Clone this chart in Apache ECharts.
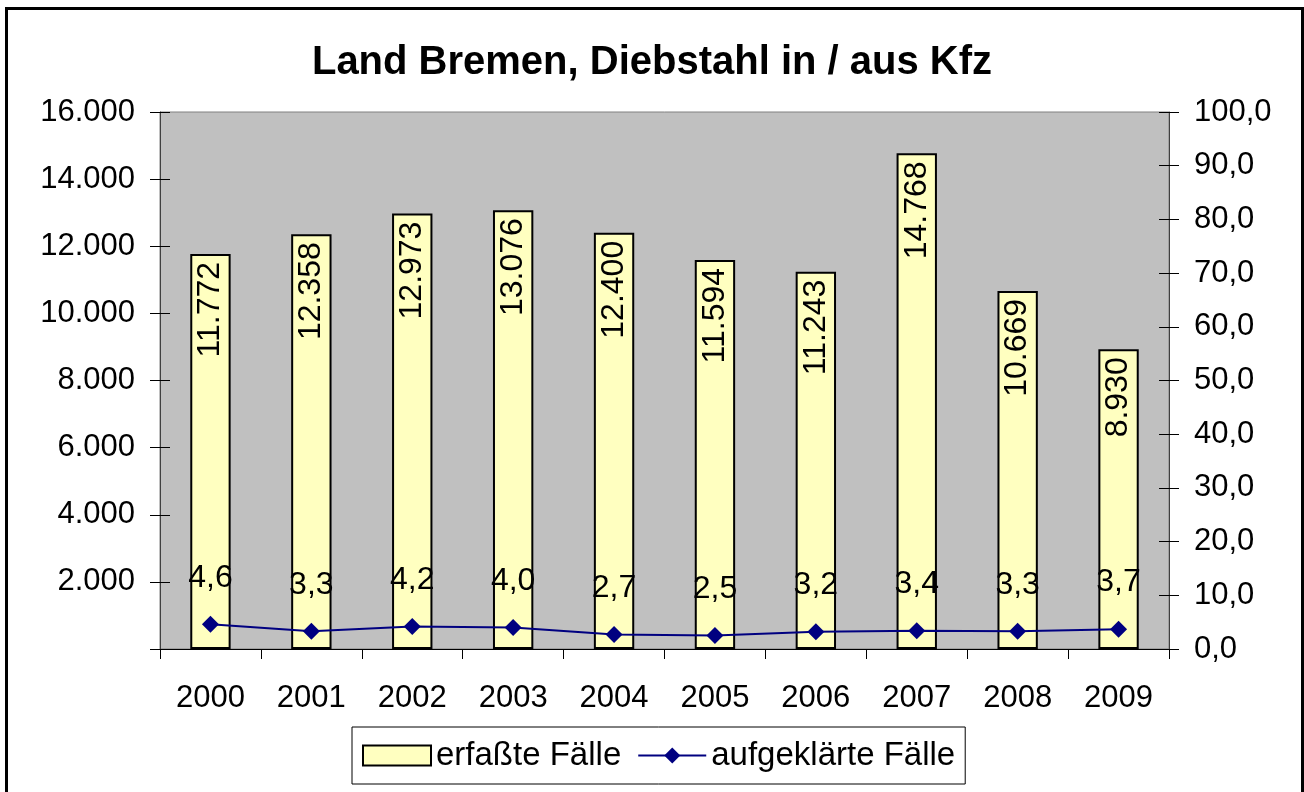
<!DOCTYPE html>
<html>
<head>
<meta charset="utf-8">
<script src="https://cdn.jsdelivr.net/npm/echarts@6/dist/echarts.min.js"></script>
<style>
  html, body { margin: 0; padding: 0; background: #fff; }
  #wrap { position: relative; width: 1304px; height: 792px; overflow: hidden; }
  #chart { width: 1304px; height: 792px; }
  #frame { position: absolute; left: 5px; top: 7px; width: 1293px; height: 820px; border: 3px solid #000; pointer-events: none; }
</style>
</head>
<body>
<div id="wrap">
  <div id="chart"></div>
  <div id="frame"></div>
</div>
<script>
const titleText = 'Land Bremen, Diebstahl in / aus Kfz';
const years = ['2000', '2001', '2002', '2003', '2004', '2005', '2006', '2007', '2008', '2009'];
const erfassteFaelle = [11772, 12358, 12973, 13076, 12400, 11594, 11243, 14768, 10669, 8930];
const aufgeklaerteFaelle = [4.6, 3.3, 4.2, 4.0, 2.7, 2.5, 3.2, 3.4, 3.3, 3.7];
const seriesNames = ['erfaßte Fälle', 'aufgeklärte Fälle'];

const FONT = "'Liberation Sans', Arial, sans-serif";
const fmtThousands = v => String(Math.round(v)).replace(/\B(?=(\d{3})+(?!\d))/g, '.');
const fmtLeftTick = v => (v === 0 ? '' : fmtThousands(v));
const fmtDecimal = v => Number(v).toFixed(1).replace('.', ',');

const AX_FONT = 31;
const LBL_FONT = 32;

const chart = echarts.init(document.getElementById('chart'), null, { renderer: 'canvas' });
chart.setOption({
  backgroundColor: '#ffffff',
  animation: false,
  textStyle: { fontFamily: FONT, color: '#000' },
  title: {
    text: titleText,
    left: 'center',
    top: 38,
    textStyle: { fontFamily: FONT, fontSize: 40, fontWeight: 'bold', color: '#000' }
  },
  legend: {
    left: 352,
    top: 727,
    width: 620,
    padding: [12, 10, 12, 10],
    borderColor: '#000',
    borderWidth: 1,
    itemWidth: 68,
    itemHeight: 20,
    itemGap: 16,
    textStyle: { fontFamily: FONT, fontSize: 33, color: '#000' },
    data: [
      { name: seriesNames[0], icon: 'rect' },
      { name: seriesNames[1] }
    ]
  },
  grid: {
    left: 160,
    right: 135,
    top: 112,
    bottom: 143,
    show: true,
    backgroundColor: '#C0C0C0',
    borderColor: '#808080',
    borderWidth: 1,
    containLabel: false
  },
  xAxis: {
    type: 'category',
    data: years,
    boundaryGap: true,
    axisLine: { show: true, lineStyle: { color: '#000', width: 1 } },
    axisTick: { show: true, alignWithLabel: false, length: 10, lineStyle: { color: '#000' } },
    axisLabel: { fontFamily: FONT, fontSize: AX_FONT, color: '#000', margin: 34 },
    splitLine: { show: false }
  },
  yAxis: [
    {
      type: 'value',
      min: 0,
      max: 16000,
      interval: 2000,
      position: 'left',
      axisLine: { show: true, lineStyle: { color: '#404040', width: 1 } },
      axisTick: { show: true, length: 10, lineStyle: { color: '#000' } },
      axisLabel: { fontFamily: FONT, fontSize: AX_FONT, color: '#000', margin: 25, formatter: fmtLeftTick },
      splitLine: { show: false }
    },
    {
      type: 'value',
      min: 0,
      max: 100,
      interval: 10,
      position: 'right',
      axisLine: { show: true, lineStyle: { color: '#404040', width: 1 } },
      axisTick: { show: true, length: 10, lineStyle: { color: '#000' } },
      axisLabel: { fontFamily: FONT, fontSize: AX_FONT, color: '#000', margin: 25, formatter: fmtDecimal },
      splitLine: { show: false }
    },
    {
      type: 'value',
      min: 0,
      max: 16000,
      interval: 2000,
      position: 'left',
      axisLine: { show: false },
      axisTick: { show: true, inside: true, length: 10, lineStyle: { color: '#000' } },
      axisLabel: { show: false },
      splitLine: { show: false }
    },
    {
      type: 'value',
      min: 0,
      max: 100,
      interval: 10,
      position: 'right',
      axisLine: { show: false },
      axisTick: { show: true, inside: true, length: 10, lineStyle: { color: '#000' } },
      axisLabel: { show: false },
      splitLine: { show: false }
    }
  ],
  series: [
    {
      name: seriesNames[0],
      type: 'bar',
      yAxisIndex: 0,
      data: erfassteFaelle,
      barWidth: '40%',
      itemStyle: { color: '#FFFFC0', borderColor: '#000', borderWidth: 2 },
      label: {
        show: true,
        position: 'insideTop',
        rotate: 90,
        align: 'right',
        verticalAlign: 'middle',
        distance: 8,
        fontFamily: FONT,
        fontSize: LBL_FONT,
        color: '#000',
        formatter: p => fmtThousands(p.value)
      },
      z: 2
    },
    {
      name: seriesNames[1],
      type: 'line',
      yAxisIndex: 1,
      data: aufgeklaerteFaelle,
      symbol: 'diamond',
      symbolSize: 17,
      lineStyle: { color: '#000080', width: 2 },
      itemStyle: { color: '#000080' },
      label: {
        show: true,
        position: 'top',
        distance: 22,
        fontFamily: FONT,
        fontSize: LBL_FONT,
        color: '#000',
        formatter: p => fmtDecimal(p.value)
      },
      z: 3
    }
  ]
});
</script>
</body>
</html>
